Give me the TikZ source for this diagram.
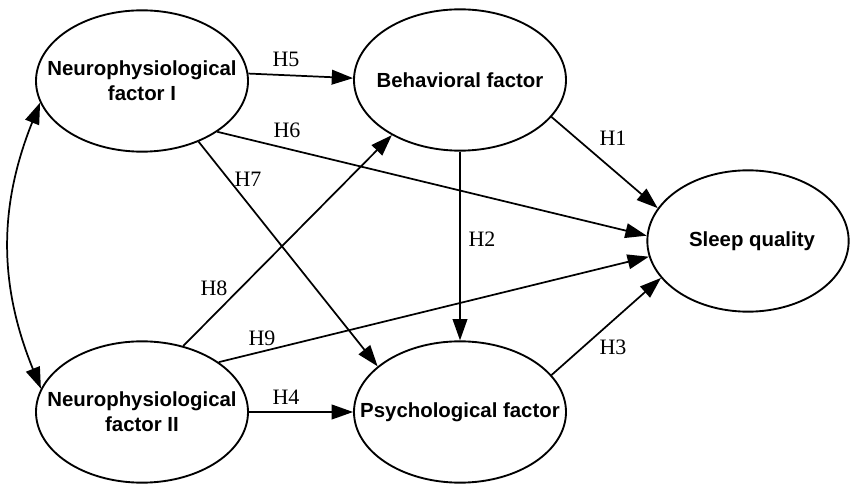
\documentclass[tikz,border=0pt]{standalone}
\usepackage{fontspec}
\setmainfont{Liberation Serif}
\setsansfont{Liberation Sans}
\usetikzlibrary{shapes.geometric,arrows.meta}

\begin{document}
\begin{tikzpicture}[x=0.75pt,y=-0.75pt,>={Triangle[length=16pt,width=11pt]},
    factor/.style={draw,line width=1.4pt,ellipse,minimum width=159pt,minimum height=106pt,inner sep=0pt},
    factortext/.style={align=center,inner sep=0pt,font=\sffamily\bfseries\fontsize{15.3}{18.5}\selectfont},
    hyp/.style={line width=1.3pt,->},
    lab/.style={font=\fontsize{16.5}{19}\selectfont}]
        \useasboundingbox (0,0) rectangle (850,484);

        \node[factor,label={[factortext]center:Neurophysiological\\factor I}] (nf1) at (142,81) {};
        \node[factor,label={[factortext]center:Neurophysiological\\factor II}] (nf2) at (142,412) {};
        \node[factor,label={[factortext]center:Behavioral factor}] (beh) at (460,80) {};
        \node[factor,label={[factortext]center:Psychological factor}] (psy) at (460,412) {};
        \node[factor,minimum width=151pt,label={[factortext,xshift=3pt]center:Sleep quality}] (slp) at (748,241) {};

        % paths
        \draw[hyp] (beh.-22) -- (slp.160);
        \draw[hyp] (beh.south) -- (psy.north);
        \draw[hyp] (psy.22) -- (slp.203);
        \draw[hyp] (nf2.east) -- (psy.west);
        \draw[hyp] (nf1.4) -- (beh.179);
        \draw[hyp] (nf1.-34) -- (slp.177);
        \draw[hyp] (nf1.-47) -- (psy.151);
        \draw[hyp] (nf2.58) -- (beh.-141);
        \draw[hyp] (nf2.33) -- (slp.189);
        \draw[hyp,<->] (nf1.192) to[bend right=22] (nf2.167);

        \node[lab] (h1) at (613,138) {H1};
        \node[lab] (h2) at (482,239) {H2};
        \node[lab] (h3) at (613,347) {H3};
        \node[lab] (h4) at (286,397) {H4};
        \node[lab] (h5) at (286,59) {H5};
        \node[lab] (h6) at (287,130) {H6};
        \node[lab] (h7) at (248,179) {H7};
        \node[lab] (h8) at (214,288) {H8};
        \node[lab] (h9) at (262,338) {H9};
      \end{tikzpicture}
\end{document}
